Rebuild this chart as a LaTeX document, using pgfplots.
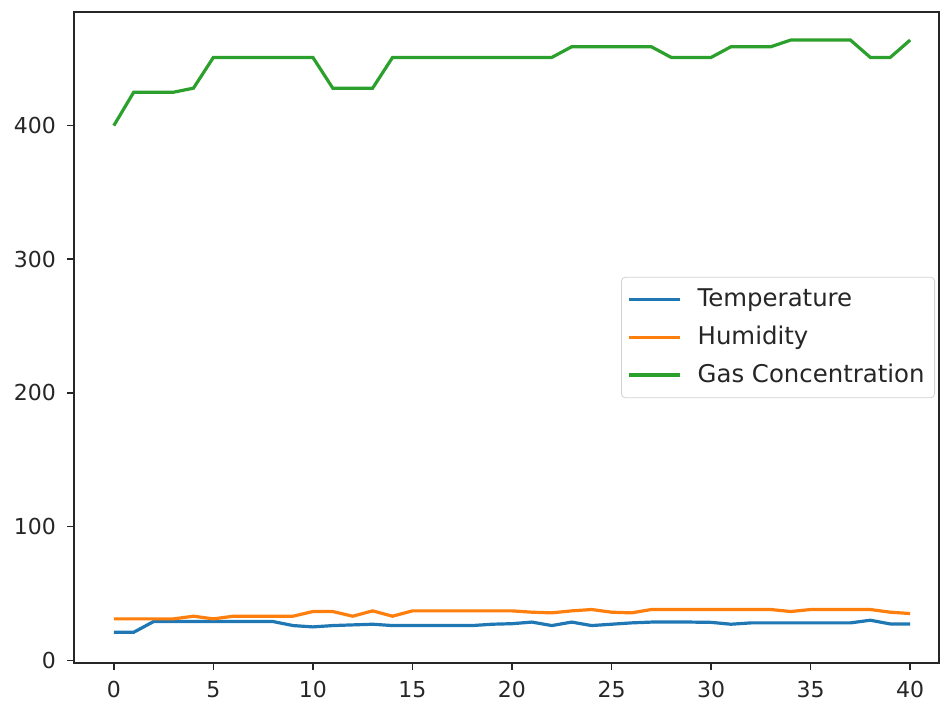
\documentclass[border=0pt]{standalone}
\usepackage{fontspec}
\setmainfont{DejaVu Sans}
\usepackage{pgfplots}
\pgfplotsset{compat=1.18}
\definecolor{tabblue}{HTML}{1F77B4}
\definecolor{taborange}{HTML}{FF7F0E}
\definecolor{tabgreen}{HTML}{2CA02C}
\definecolor{txt}{HTML}{262626}
\begin{document}
\begin{tikzpicture}
\path[use as bounding box] (-37pt,-20.5pt) rectangle (433pt,331.5pt);
\begin{axis}[
  at={(0pt,0pt)}, anchor=south west,
  scale only axis, width=432.5pt, height=325.5pt,
  xmin=-2, xmax=41.45, ymin=-2, ymax=485,
  xtick={0,5,...,40}, ytick={0,100,...,400},
  tick align=outside, tick pos=left,
  major tick length=3.5pt,
  axis line style={line width=0.9pt, color=txt},
  tick style={line width=0.8pt, color=txt},
  /pgf/number format/assume math mode=true,
  ticklabel style={font=\fontsize{11}{13}\selectfont, text=txt},
  xticklabel style={yshift=-2pt},
  yticklabel style={xshift=-2pt},
  legend style={at={(axis description cs:1,0.5)}, xshift=-2pt, anchor=east,
    draw=gray!35, rounded corners=2pt, font=\fontsize{12.2}{14}\selectfont,
    inner xsep=3pt, inner ysep=4pt,
    row sep=4.2pt, text=txt,
    /tikz/every odd column/.append style={column sep=6pt}},
  legend cell align=left,
  legend image code/.code={\draw[#1, line width=1.6pt] (0pt,0pt) -- (25.5pt,0pt);},
  every axis plot/.append style={line width=1.6pt},
]
\addplot[tabblue, mark=none] coordinates {
(0,21) (1,21) (2,29) (3,29) (4,29) (5,29) (6,29) (7,29) (8,29) (9,26)
(10,25) (11,26) (12,26.5) (13,27) (14,26) (15,26) (16,26) (17,26) (18,26) (19,27)
(20,27.4) (21,28.6) (22,26) (23,28.6) (24,26) (25,27) (26,28) (27,28.6) (28,28.6) (29,28.6)
(30,28.4) (31,27) (32,28) (33,28) (34,28) (35,28) (36,28) (37,28) (38,30) (39,27.2) (40,27.2)};
\addlegendentry{Temperature}
\addplot[taborange, mark=none] coordinates {
(0,31) (1,31) (2,31) (3,31) (4,33) (5,31) (6,33) (7,33) (8,33) (9,33)
(10,36.5) (11,36.5) (12,33) (13,37) (14,33) (15,37) (16,37) (17,37) (18,37) (19,37)
(20,37) (21,36) (22,35.5) (23,37) (24,38) (25,36) (26,35.5) (27,38) (28,38) (29,38)
(30,38) (31,38) (32,38) (33,38) (34,36.5) (35,38) (36,38) (37,38) (38,38) (39,36) (40,35)};
\addlegendentry{Humidity}
\addplot[tabgreen, mark=none] coordinates {
(0,400) (1,425) (2,425) (3,425) (4,428) (5,451) (6,451) (7,451) (8,451) (9,451)
(10,451) (11,428) (12,428) (13,428) (14,451) (15,451) (16,451) (17,451) (18,451) (19,451)
(20,451) (21,451) (22,451) (23,459) (24,459) (25,459) (26,459) (27,459) (28,451) (29,451)
(30,451) (31,459) (32,459) (33,459) (34,464) (35,464) (36,464) (37,464) (38,451) (39,451) (40,464)};
\addlegendentry{Gas Concentration}
\end{axis}
\end{tikzpicture}
\end{document}
